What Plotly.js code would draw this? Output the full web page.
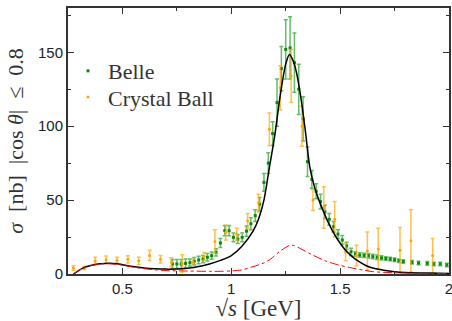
<!DOCTYPE html>
<html>
<head>
<meta charset="utf-8">
<script src="https://cdn.plot.ly/plotly-3.0.1.min.js"></script>
<style>html,body{margin:0;padding:0;background:#fff;}#chart{width:452px;height:321px;}</style>
</head>
<body>
<div id="chart"></div>
<script>
// Belle data
var belleX = [0.73,0.75,0.77,0.79,0.81,0.83,0.85,0.87,0.89,0.91,0.93,0.95,0.97,0.99,1.01,1.03,1.05,1.07,1.09,1.11,1.13,1.15,1.17,1.19,1.21,1.23,1.25,1.27,1.29,1.31,1.33,1.35,1.37,1.39,1.41,1.43,1.45,1.47,1.49,1.51,1.53,1.55,1.57,1.59,1.61,1.63,1.65,1.67,1.69,1.71,1.73,1.75,1.77,1.79,1.83,1.86,1.90,1.93,1.96,1.99];
var belleY = [6.8,6.8,6.8,7.2,7.7,8.6,9.5,10.1,11.3,12.4,14.6,21,29.3,29.3,24.8,23.6,24.8,29,34,39.5,47.3,62,75,95,116,139,152,153,143,125,105,76,64,56,49,42,37,32,27,23,19,15,13.5,12.8,12.6,12.4,11.8,11.3,10.9,10.5,10.1,9.6,9.0,8.4,7.9,7.4,7.2,6.8,6.8,6.1];
var belleErr = [3,3,3,3,2.5,2.5,2.5,2.5,2.5,2.5,2.5,3,3.5,3.5,3,3,3,3.5,4,4,4.5,6,7,8,16,15,20,21,20,17,15,10,6,5,5,4.5,4,3.5,3,3,2.5,2.5,1.5,1.5,1.5,1.5,1.5,1.5,1.5,1.2,1.2,1.2,1.2,1.2,1.2,1.2,1.2,1.2,1.2,1.2];

// Crystal Ball data
var cbX = [0.275,0.325,0.375,0.425,0.475,0.525,0.575,0.625,0.675,0.725,0.775,0.825,0.875,0.925,0.975,1.025,1.075,1.125,1.175,1.225,1.275,1.325,1.375,1.425,1.475,1.525,1.575,1.625,1.675,1.775,1.825,1.925];
var cbY = [4,4,8.8,9.7,9.3,9.9,8.9,12.6,10,8,7,8,12,22,28,27,36,48,98,126,134,100,50,45,37,15,12.5,15.5,17,16,22.5,12.5];
var cbErr = [1.5,1,2.5,2.5,2,2.5,2.5,3.5,2.5,3,6,2,2.5,8,5,4,5,6,11,15,18,13.5,7,14,12,6,7,13,14,15.5,21,11.6];

// Full model curve (black)
var fullX = [0.275,0.30,0.325,0.35,0.375,0.40,0.44,0.475,0.50,0.525,0.55,0.575,0.60,0.65,0.70,0.75,0.80,0.85,0.90,0.95,1.00,1.05,1.10,1.125,1.15,1.175,1.20,1.225,1.25,1.267,1.285,1.30,1.32,1.34,1.36,1.38,1.40,1.43,1.46,1.49,1.52,1.55,1.58,1.62,1.65,1.70,1.75,1.80,1.90,2.00];
var fullY = [0,2.5,4.5,5.6,6.5,7.0,7.3,7.0,6.3,5.6,5.0,4.5,4.0,3.5,3.3,3.4,3.9,5.0,6.8,9.2,12.5,19,29,37,50,72,94,121,142,148.6,144,136,119,97,73,60,51,40,30.5,23,16.9,12.4,9,5.6,4,2.5,1.5,1.0,0.6,0.4];

// Partial model curve (red dash-dot)
var partX = [0.275,0.30,0.35,0.40,0.45,0.50,0.55,0.60,0.65,0.70,0.80,0.90,0.95,1.00,1.05,1.10,1.15,1.18,1.22,1.245,1.27,1.29,1.32,1.365,1.43,1.49,1.55,1.61,1.65,1.72,1.80,1.90,2.00];
var partY = [0,2.5,5.5,6.8,6.8,6.0,4.6,3.6,2.8,2.3,2.0,1.8,1.8,2.1,2.8,5,7.5,10,15,17.5,19.5,19.2,17,13.5,9,6.2,4.2,2.5,1.6,1.0,0.6,0.4,0.3];

var traces = [
  {x: belleX, y: belleY, name: 'Belle', type: 'scatter', mode: 'markers', legend: 'legend',
   marker: {color: '#0a8a0a', size: 3, symbol: 'square'},
   error_y: {type: 'data', array: belleErr, visible: true, color: 'rgba(20,150,20,0.65)', thickness: 1.5, width: 2}},
  {x: cbX, y: cbY, name: 'Crystal Ball', type: 'scatter', mode: 'markers', legend: 'legend2',
   marker: {color: '#ffa500', size: 3},
   error_y: {type: 'data', array: cbErr, visible: true, color: 'rgba(255,165,0,0.7)', thickness: 1.5, width: 2}},
  {x: fullX, y: fullY, type: 'scatter', mode: 'lines', showlegend: false,
   line: {color: '#000', width: 1.5, shape: 'spline', smoothing: 0.8}},
  {x: partX, y: partY, type: 'scatter', mode: 'lines', showlegend: false,
   line: {color: 'red', width: 1, dash: 'dashdot', shape: 'spline', smoothing: 0.8}}
];

var axisCommon = {
  ticks: 'inside', ticklen: 6, tickwidth: 1, tickcolor: '#333',
  showline: true, linewidth: 2, linecolor: '#333', mirror: 'ticks',
  showgrid: false, zeroline: false, ticklabeloverflow: 'allow',
  tickfont: {family: 'Liberation Sans, Arial, sans-serif', size: 15, color: '#222'}
};

var legendFont = {family: 'Liberation Serif, serif', size: 22, color: '#333'};

var layout = {
  width: 452, height: 321,
  margin: {l: 68, r: 3, t: 8, b: 47},
  paper_bgcolor: '#fff', plot_bgcolor: '#fff',
  showlegend: true,
  legend: {x: 0, y: 0.763, xanchor: 'left', yanchor: 'middle', bgcolor: 'rgba(0,0,0,0)', font: legendFont},
  legend2: {x: 0, y: 0.665, xanchor: 'left', yanchor: 'middle', bgcolor: 'rgba(0,0,0,0)', font: legendFont},
  xaxis: Object.assign({}, axisCommon, {
    range: [0.25, 2], tick0: 0, dtick: 0.5,
    minor: {dtick: 0.25, tick0: 0, ticks: 'inside', ticklen: 3, tickcolor: '#333', showgrid: false},
    title: {text: '\u221A<i>s</i> [GeV]', standoff: 4,
            font: {family: 'Liberation Serif, serif', size: 23, color: '#333'}}
  }),
  yaxis: Object.assign({}, axisCommon, {
    range: [0, 180], tick0: 0, dtick: 50,
    minor: {dtick: 25, tick0: 0, ticks: 'inside', ticklen: 3, tickcolor: '#333', showgrid: false},
    title: {text: '<i>\u03C3</i>\u00A0 [nb]\u00A0 |cos\u00A0<i>\u03B8</i>|\u00A0 \u2264\u00A0 0.8', standoff: 8,
            font: {family: 'Liberation Serif, serif', size: 22, color: '#333'}}
  })
};

Plotly.newPlot('chart', traces, layout, {staticPlot: true, displayModeBar: false});
</script>
</body>
</html>
